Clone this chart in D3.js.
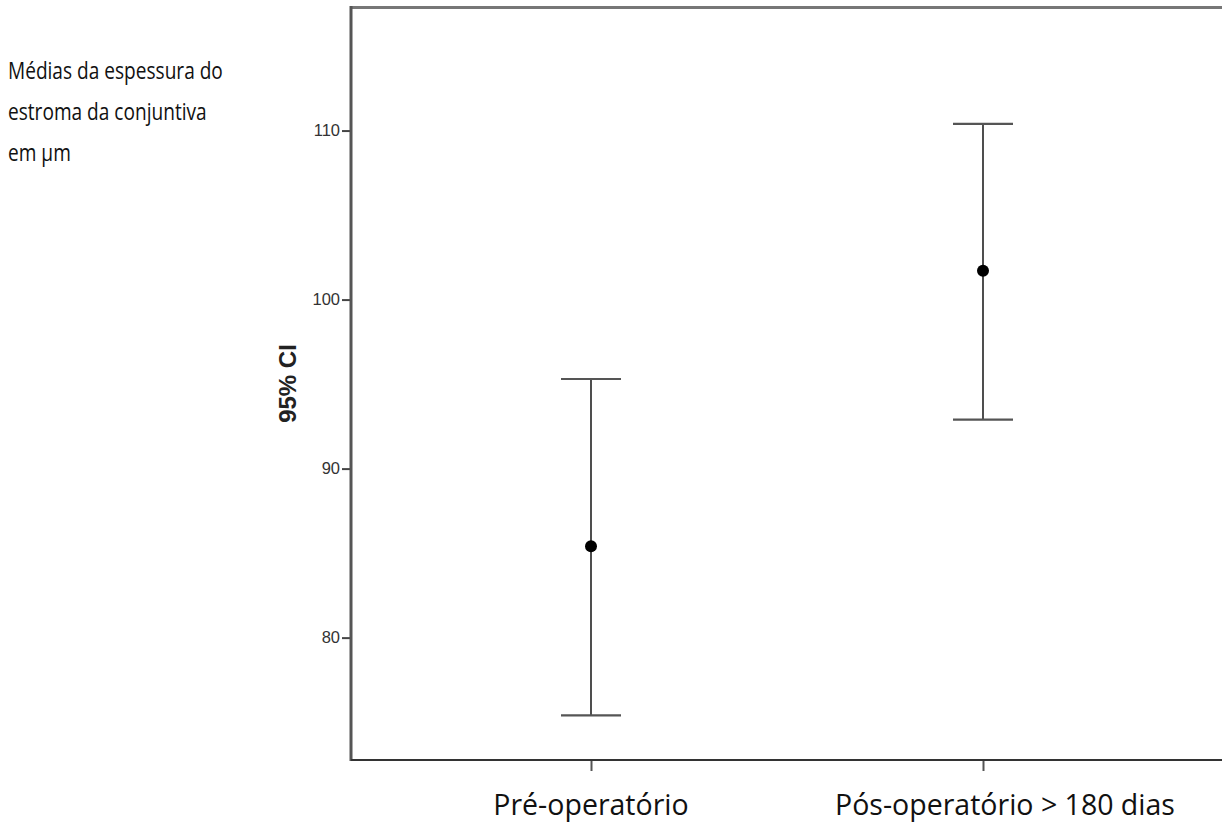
<!DOCTYPE html>
<html>
<head>
<meta charset="utf-8">
<script src="https://cdn.jsdelivr.net/npm/d3@7"></script>
<style>
    body { margin: 0; background: #fff; }
    #chart { width: 1222px; height: 825px; overflow: hidden; }
    .tick-label { font-family: "Liberation Sans", Arial, sans-serif; font-size: 16.5px; fill: #333; }
    .cat-label { font-family: "Open Sans", sans-serif; font-size: 28.5px; fill: #111; }
    .side-text { font-family: "Open Sans", sans-serif; font-size: 23px; fill: #111; }
</style>
</head>
<body>
<div id="chart"></div>
<script>
// data
const categories = ["Pré-operatório", "Pós-operatório > 180 dias"];
const means = [85.4, 101.7];
const lowerCI = [75.4, 92.9];
const upperCI = [95.3, 110.4];
const yTicks = [80, 90, 100, 110];
const yDomain = [72.76, 117.31];
const sideText = ["Médias da espessura do", "estroma da conjuntiva", "em µm"];

class CIPlot {

    constructor(parentElement) {
        this.parentElement = parentElement;
        this.initVis();
    }

    initVis() {
        let vis = this;

        vis.width = 1222;
        vis.height = 825;
        vis.plot = {left: 351, top: 7, bottom: 760, right: 1240};

        vis.svg = d3.select("#" + vis.parentElement).append("svg")
            .attr("width", vis.width)
            .attr("height", vis.height);

        vis.yScale = d3.scaleLinear()
            .domain(yDomain)
            .range([vis.plot.bottom, vis.plot.top]);

        vis.xScale = d3.scalePoint()
            .domain(categories)
            .range([591, 983]);

        vis.displayData = categories.map((c, i) => ({
            cat: c, mean: means[i], lo: lowerCI[i], hi: upperCI[i]
        }));

        vis.updateVis();
    }

    updateVis() {
        let vis = this;

        // frame: top line
        vis.svg.append("line")
            .attr("x1", vis.plot.left).attr("x2", vis.plot.right)
            .attr("y1", vis.plot.top + 0.5).attr("y2", vis.plot.top + 0.5)
            .attr("stroke", "#777").attr("stroke-width", 3);

        // y axis
        let yAxis = d3.axisLeft(vis.yScale)
            .tickValues(yTicks)
            .tickSize(9)
            .tickPadding(2);

        let yg = vis.svg.append("g")
            .attr("transform", `translate(${vis.plot.left},0)`)
            .call(yAxis);
        yg.attr("font-size", null).attr("font-family", null);
        yg.select(".domain").remove();
        yg.selectAll(".tick line").attr("stroke", "#444").attr("stroke-width", 2);
        yg.selectAll(".tick text").attr("class", "tick-label");

        vis.svg.append("line")
            .attr("x1", vis.plot.left).attr("x2", vis.plot.left)
            .attr("y1", vis.plot.top - 1).attr("y2", vis.plot.bottom + 1)
            .attr("stroke", "#555").attr("stroke-width", 3);

        // x axis
        let xAxis = d3.axisBottom(vis.xScale)
            .tickSize(11)
            .tickFormat("");
        let xg = vis.svg.append("g")
            .attr("transform", `translate(0,${vis.plot.bottom})`)
            .call(xAxis);
        xg.select(".domain").remove();
        xg.selectAll(".tick line").attr("stroke", "#555").attr("stroke-width", 2);

        vis.svg.append("line")
            .attr("x1", vis.plot.left).attr("x2", vis.plot.right)
            .attr("y1", vis.plot.bottom).attr("y2", vis.plot.bottom)
            .attr("stroke", "#333").attr("stroke-width", 2);

        // category labels (the second one sits a bit right of its tick in the original)
        let labelShift = [0, 22];
        vis.svg.selectAll(".cat-label")
            .data(categories)
            .enter()
            .append("text")
            .attr("class", "cat-label")
            .attr("x", (d, i) => vis.xScale(d) + labelShift[i])
            .attr("y", 815)
            .attr("text-anchor", "middle")
            .text(d => d);

        // y title
        vis.svg.append("text")
            .attr("transform", `translate(296, ${(vis.plot.top + vis.plot.bottom) / 2}) rotate(-90)`)
            .attr("text-anchor", "middle")
            .attr("font-family", "Liberation Sans, Arial, sans-serif")
            .attr("font-weight", "bold")
            .attr("font-size", 24)
            .attr("fill", "#222")
            .text("95% CI");

        // side text, slightly condensed like the pasted caption
        vis.svg.append("g")
            .attr("transform", "translate(8,0) scale(0.83,1)")
            .selectAll("text")
            .data(sideText)
            .enter()
            .append("text")
            .attr("class", "side-text")
            .attr("x", 0)
            .attr("y", (d, i) => 79 + i * 41)
            .text(d => d);

        // error bars
        let bars = vis.svg.selectAll(".ci")
            .data(vis.displayData)
            .enter()
            .append("g")
            .attr("class", "ci");

        bars.append("line")
            .attr("x1", d => vis.xScale(d.cat)).attr("x2", d => vis.xScale(d.cat))
            .attr("y1", d => vis.yScale(d.hi)).attr("y2", d => vis.yScale(d.lo))
            .attr("stroke", "#222").attr("stroke-width", 1.6);

        ["hi", "lo"].forEach(k => {
            bars.append("line")
                .attr("x1", d => vis.xScale(d.cat) - 30).attr("x2", d => vis.xScale(d.cat) + 30)
                .attr("y1", d => vis.yScale(d[k])).attr("y2", d => vis.yScale(d[k]))
                .attr("stroke", "#555").attr("stroke-width", 2.2);
        });

        bars.append("circle")
            .attr("cx", d => vis.xScale(d.cat))
            .attr("cy", d => vis.yScale(d.mean))
            .attr("r", 6)
            .attr("fill", "#000");
    }
}

new CIPlot("chart");
</script>
</body>
</html>
